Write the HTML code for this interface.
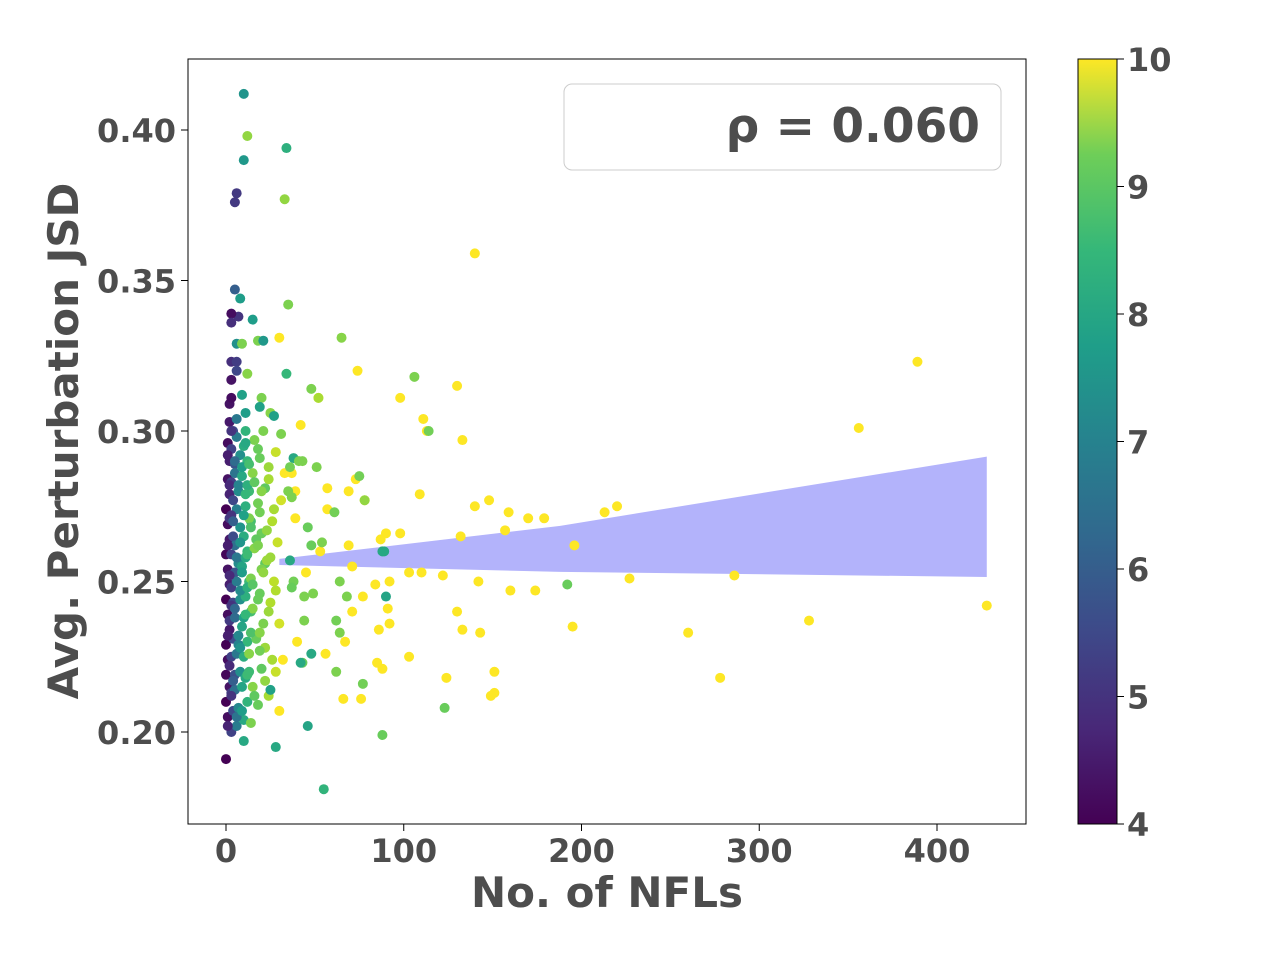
<!DOCTYPE html>
<html><head><meta charset="utf-8"><style>
body{margin:0;background:#fff;}
svg text{font-family:"DejaVu Sans","Liberation Sans",sans-serif;font-weight:bold;fill:#4d4d4d;}
</style></head><body>
<svg id="chart" width="1280" height="960" xmlns="http://www.w3.org/2000/svg">
<defs><linearGradient id="vir" x1="0" y1="1" x2="0" y2="0">
<stop offset="0" stop-color="#440154"/><stop offset="0.125" stop-color="#482878"/><stop offset="0.25" stop-color="#3e4989"/><stop offset="0.375" stop-color="#31688e"/><stop offset="0.5" stop-color="#26828e"/><stop offset="0.625" stop-color="#1f9e89"/><stop offset="0.75" stop-color="#35b779"/><stop offset="0.875" stop-color="#6ece58"/><stop offset="1" stop-color="#fde725"/></linearGradient></defs>
<g id="plot"></g>
<rect x="188" y="59" width="838" height="765" fill="none" stroke="#000" stroke-width="1"/>
<rect x="564" y="84" width="437" height="86" rx="8" fill="#fff" fill-opacity="0.8" stroke="#ccc"/>
<text x="980" y="142" font-size="47" text-anchor="end">ρ = 0.060</text>
<text x="607" y="907" font-size="42" text-anchor="middle">No. of NFLs</text>
<text transform="translate(78,441) rotate(-90)" font-size="42" text-anchor="middle">Avg. Perturbation JSD</text>
<rect x="1078" y="59" width="39" height="765" fill="url(#vir)" stroke="#000"/>
<g id="axes"></g>
</svg>
<script>
const xTicks=[0,100,200,300,400];
const yTicks=[0.20,0.25,0.30,0.35,0.40];
const cTicks=[4,5,6,7,8,9,10];
const bandX=[30,188,428];
const bandUpper=[0.2575,0.2685,0.2915];
const bandLower=[0.2555,0.2532,0.2515];
const ptsX=[0,1,0,2,0,1,0,2,1,0,2,1,0,2,1,0,2,1,2,1,2,2,3,
3,4,3,5,3,4,2,4,3,5,3,4,2,4,3,5,3,4,
6,7,5,8,6,7,5,8,6,7,5,8,6,7,5,8,6,
10,12,9,13,10,12,9,14,11,13,9,12,10,14,11,13,9,12,10,11,
14,18,15,20,13,17,21,15,19,14,22,16,20,13,18,22,15,19,16,
24,28,22,30,25,27,23,29,26,31,24,28,
140,389,356,428,328,286,278,260,227,220,213,196,195,179,170,174,160,159,157,148,140,142,143,133,130,132,130,133,151,151,149,124,122,111,113,109,110,103,103,98,98,92,91,92,90,87,88,85,86,84,74,73,69,69,71,71,76,66,67,77,78,57,57,52,53,56,42,39,37,33,30,39,45,32,40,30,
12,33,35,65,106,114,48,52,75,78,61,54,64,68,62,64,62,77,88,123,192,89,46,51,49,44,43,46,55,34,34,10,10,6,5,5,8,7,3,3,6,9,15,18,21,3,6,6,3,12,20,9,11,25,19,27,31,21,38,41,36,43,35,37,48,36,38,44,37,48,42,90,88,25,28,10,
1,3,2,1,3,2,1,3,2,1,3,
6,4,7,5,8,6,4,7,5,6,
9,11,8,10,12,9,11,8,10,12,9,11,
16,12,19,14,11,18,15,20,12,17,14,19,11,16,13,18,
22,26,19,24,28,21,25,18,23,27,20,24];
const ptsY=[0.191,0.205,0.210,0.215,0.219,0.224,0.229,0.234,0.239,0.244,0.249,0.254,0.259,0.264,0.269,0.274,0.279,0.284,0.290,0.296,0.303,0.309,0.311,
0.200,0.207,0.213,0.219,0.225,0.231,0.237,0.243,0.248,0.253,0.259,0.265,0.271,0.277,0.283,0.289,0.294,0.300,
0.202,0.208,0.214,0.220,0.226,0.232,0.238,0.244,0.250,0.256,0.262,0.268,0.274,0.280,0.286,0.292,0.298,
0.204,0.210,0.215,0.220,0.225,0.230,0.235,0.240,0.245,0.250,0.255,0.260,0.265,0.270,0.275,0.280,0.285,0.290,0.295,0.300,
0.203,0.209,0.215,0.221,0.226,0.231,0.236,0.241,0.246,0.251,0.256,0.261,0.266,0.271,0.276,0.281,0.286,0.291,0.297,
0.212,0.220,0.228,0.236,0.243,0.250,0.257,0.263,0.270,0.277,0.284,0.293,
0.359,0.323,0.301,0.242,0.237,0.252,0.218,0.233,0.251,0.275,0.273,0.262,0.235,0.271,0.271,0.247,0.247,0.273,0.267,0.277,0.275,0.250,0.233,0.297,0.315,0.265,0.240,0.234,0.220,0.213,0.212,0.218,0.252,0.304,0.300,0.279,0.253,0.253,0.225,0.311,0.266,0.250,0.241,0.236,0.266,0.264,0.221,0.223,0.234,0.249,0.320,0.284,0.262,0.280,0.255,0.240,0.211,0.211,0.230,0.245,0.277,0.281,0.274,0.311,0.260,0.226,0.302,0.280,0.286,0.286,0.331,0.271,0.253,0.224,0.230,0.207,
0.398,0.377,0.342,0.331,0.318,0.300,0.314,0.311,0.285,0.277,0.273,0.263,0.250,0.245,0.237,0.233,0.220,0.216,0.199,0.208,0.249,0.260,0.268,0.288,0.246,0.237,0.223,0.202,0.181,0.319,0.394,0.412,0.390,0.379,0.376,0.347,0.344,0.338,0.339,0.336,0.329,0.329,0.337,0.330,0.330,0.323,0.323,0.320,0.317,0.319,0.311,0.312,0.306,0.306,0.308,0.305,0.299,0.300,0.291,0.290,0.288,0.290,0.280,0.278,0.262,0.257,0.250,0.245,0.248,0.226,0.223,0.245,0.260,0.214,0.195,0.197,
0.202,0.212,0.222,0.232,0.242,0.252,0.262,0.272,0.282,0.292,0.300,
0.205,0.217,0.229,0.241,0.247,0.258,0.270,0.282,0.290,0.304,
0.207,0.218,0.228,0.238,0.248,0.253,0.258,0.263,0.272,0.282,0.288,0.296,
0.212,0.219,0.227,0.233,0.239,0.244,0.249,0.254,0.259,0.264,0.268,0.273,0.279,0.283,0.289,0.294,
0.217,0.224,0.233,0.240,0.247,0.253,0.258,0.262,0.267,0.274,0.280,0.288];
const ptsC=[4,4.2,4,4.3,4.1,4.2,4,4.4,4.2,4,4.5,4.3,4.1,4.4,4.2,4,4.6,4.3,4.5,4.2,4.4,4.3,4.2,
5.2,5.4,5.1,5.5,5.2,5.4,5,5.3,5.1,5.6,5.2,5.4,5,5.3,5.1,5.6,5.2,5.4,
6.5,6.8,6.2,7,6.4,6.8,6.1,7,6.5,6.9,6.2,7.1,6.6,6.9,6.3,7,6.5,
7.6,7.9,7.5,8.1,7.7,8,7.5,8.2,7.8,8.1,7.5,8,7.7,8.2,7.8,8.1,7.6,8,7.7,7.9,
8.8,8.6,8.9,8.5,8.9,8.6,8.8,8.9,8.6,8.8,8.5,8.9,8.6,8.8,8.7,8.5,8.9,8.6,8.8,
9.2,9.5,9.1,9.6,9.3,9.4,9.1,9.5,9.3,9.6,9.2,9.5,
10,10,10,10,10,10,10,10,10,10,10,10,10,10,10,10,10,10,10,10,10,10,10,10,10,10,10,10,10,10,10,10,10,10,10,10,10,10,10,10,10,10,10,10,10,10,10,10,10,10,10,10,10,10,10,10,10,10,10,10,10,10,10,10,10,10,10,10,10,10,10,10,10,10,10,10,
9,9,8.8,8.9,8.8,8.7,8.8,9.2,8.7,9,8.7,8.8,8.8,8.8,8.7,8.8,8.8,8.7,8.6,8.6,8.6,7.6,8.6,8.8,8.8,8.8,8.6,7.5,7.9,8,7.8,7.1,7.2,5,5,5.8,7.3,4.9,4.2,4.8,7,8.8,7.3,8.8,7.2,4.8,5.1,5.3,4.3,8.9,8.8,7.4,7.3,8.9,7.4,7.4,8.8,8.8,7.6,8.8,8.7,8.8,8.8,8.8,8.6,7.6,8.7,8.8,8.6,7.6,7.6,7.5,7.6,7.4,7.6,7.6,
4.6,4.9,4.7,4.5,4.9,4.7,4.5,4.9,4.7,4.5,4.9,
6.3,5.8,6.7,6,6.9,6.4,5.8,6.7,6.1,6.4,
7.3,7.6,7.1,7.4,7.8,7.3,7.6,7.1,7.4,7.8,7.3,7.6,
8.5,8.1,8.7,8.3,8,8.6,8.4,8.8,8.1,8.5,8.3,8.7,8,8.5,8.2,8.6,
9,9.2,8.9,9.1,9.3,9,9.1,8.8,9,9.2,8.9,9.1];
const X=v=>226+v*1.7775, Y=v=>130+(0.40-v)*3010, C=v=>824-(v-4)*127.5;
const vir=[[68,1,84],[72,40,120],[62,73,137],[49,104,142],[38,130,142],[31,158,137],[53,183,121],[110,206,88],[181,222,43],[253,231,37]];
function col(c){let t=Math.max(0,Math.min(1,(c-4)/6))*(vir.length-1);let i=Math.min(vir.length-2,Math.floor(t)),f=t-i;let a=vir[i],b=vir[i+1];return `rgb(${a.map((v,k)=>Math.round(v+(b[k]-v)*f)).join(',')})`;}
const NS="http://www.w3.org/2000/svg";
const plot=document.getElementById('plot'),axes=document.getElementById('axes');
function mk(t,p,at){const e=document.createElementNS(NS,t);for(const k in at)e.setAttribute(k,at[k]);p.appendChild(e);return e;}
let d="M"+bandX.map((x,i)=>X(x)+","+Y(bandUpper[i])).join(" L")+" L"+bandX.map((x,i)=>X(x)+","+Y(bandLower[i])).reverse().join(" L")+"Z";
const band=mk('path',plot,{d:d,fill:'#b3b3fb'});


ptsX.forEach((x,i)=>{const c=mk('circle',plot,{cx:X(x),cy:Y(ptsY[i]),r:5,fill:col(ptsC[i])});

});
xTicks.forEach(v=>{mk('line',axes,{x1:X(v),x2:X(v),y1:824,y2:831,stroke:'#000'});
const t=mk('text',axes,{x:X(v),y:862,'font-size':32,'text-anchor':'middle'});t.textContent=v;

});
yTicks.forEach(v=>{mk('line',axes,{x1:181,x2:188,y1:Y(v),y2:Y(v),stroke:'#000'});
const t=mk('text',axes,{x:176,y:Y(v)+12,'font-size':32,'text-anchor':'end'});t.textContent=v.toFixed(2);

});
cTicks.forEach(v=>{mk('line',axes,{x1:1117,x2:1124,y1:C(v),y2:C(v),stroke:'#000'});
const t=mk('text',axes,{x:1127,y:C(v)+12,'font-size':32});t.textContent=v;

});
</script>
</body></html>
